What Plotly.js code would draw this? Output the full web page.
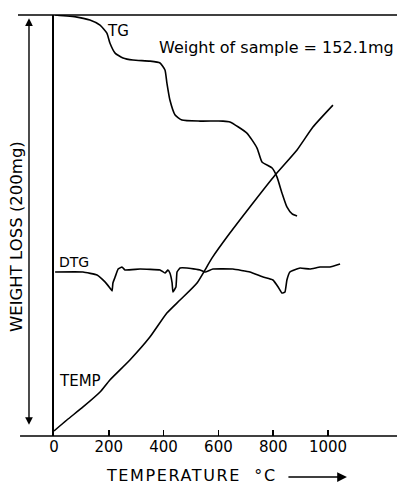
<!DOCTYPE html>
<html>
<head>
<meta charset="utf-8">
<script src="https://cdn.plot.ly/plotly-3.0.1.min.js"></script>
<style>html,body{margin:0;padding:0;background:#fff;}#chart{width:397px;height:485px;}</style>
</head>
<body>
<div id="chart"></div>
<script>
// Temperature axis (°C) and curve values (vertical scale 0-200 mg full scale)
const tgTemp = [4, 84, 131, 168, 193, 204, 223, 252, 288, 350, 387, 405, 412, 423, 442, 467, 533, 617, 642, 704, 741, 759, 796, 814, 832, 850, 869, 887];
const tgValue = [200, 199, 197.6, 195.2, 191.4, 186.7, 181.9, 179.6, 178.6, 178.1, 177.2, 173.9, 167.7, 159.6, 152.5, 150.1, 149.6, 149.6, 149.2, 143.9, 136.8, 130.2, 127.3, 123.0, 115.4, 108.8, 105.5, 104.5];

const dtgTemp = [4, 106, 157, 186, 204, 212, 215, 223, 234, 248, 259, 314, 387, 405, 416, 423, 431, 434, 445, 449, 460, 485, 533, 551, 580, 653, 715, 763, 799, 818, 832, 843, 850, 861, 898, 934, 971, 1007, 1044];
const dtgValue = [77.9, 77.9, 76.5, 73.2, 70.3, 68.9, 72.7, 75.5, 79.3, 80.3, 78.9, 79.3, 78.9, 77.4, 78.9, 77.4, 72.7, 68.4, 70.8, 77.9, 79.8, 79.8, 78.9, 77.9, 79.3, 79.3, 77.9, 75.5, 74.1, 70.8, 67.9, 68.4, 74.1, 77.9, 79.8, 79.3, 80.3, 80.3, 81.7];

const tempTemp = [0, 47, 106, 168, 204, 277, 350, 412, 460, 522, 577, 642, 715, 807, 887, 945, 1018];
const tempValue = [2.4, 7.6, 13.8, 20.9, 26.6, 36.1, 47.0, 58.4, 64.6, 72.7, 84.6, 96.4, 108.8, 124.0, 135.9, 146.8, 157.2];

const xTicks = [0, 200, 400, 600, 800, 1000];
const xTickText = ['0', '200', '400', '600', '800', '1000'];

const traces = [
  {x: tgTemp, y: tgValue, mode: 'lines', line: {color: '#000', width: 1.6, shape: 'spline', smoothing: 0.5}, name: 'TG', hoverinfo: 'skip'},
  {x: dtgTemp, y: dtgValue, mode: 'lines', line: {color: '#000', width: 1.6, shape: 'spline', smoothing: 0.3}, name: 'DTG', hoverinfo: 'skip'},
  {x: tempTemp, y: tempValue, mode: 'lines', line: {color: '#000', width: 1.6, shape: 'spline', smoothing: 0.5}, name: 'TEMP', hoverinfo: 'skip'}
];

const F = 'DejaVu Sans, sans-serif';
const layout = {
  width: 397, height: 485,
  margin: {l: 54, r: 0, t: 15, b: 49, pad: 0},
  paper_bgcolor: '#fff', plot_bgcolor: '#fff',
  showlegend: false,
  font: {family: F, color: '#000'},
  xaxis: {
    range: [0, 1251.8], showgrid: false, zeroline: false, showline: false,
    tickvals: xTicks, ticktext: xTickText, ticks: 'inside', ticklen: 6, tickwidth: 1.5, tickcolor: '#000',
    tickfont: {family: F, size: 15, color: '#000'}
  },
  yaxis: {
    range: [0, 200], showgrid: false, zeroline: false, showline: true, linecolor: '#000', linewidth: 1.6,
    showticklabels: false, ticks: ''
  },
  shapes: [
    {type: 'line', xref: 'paper', yref: 'paper', x0: -0.105, x1: 1, y0: 1, y1: 1, line: {color: '#000', width: 1.6}},
    {type: 'line', xref: 'paper', yref: 'paper', x0: -0.099, x1: 1, y0: 0, y1: 0, line: {color: '#000', width: 1.6}}
  ],
  annotations: [
    {xref: 'paper', yref: 'paper', x: -0.0729, y: 0.992, ax: 0, ay: 408, axref: 'pixel', ayref: 'pixel', text: '', showarrow: true, arrowside: 'end+start', arrowhead: 2, arrowsize: 1.1, arrowwidth: 1.4, arrowcolor: '#000'},
    {xref: 'x', yref: 'y', x: 234, y: 192.4, text: 'TG', showarrow: false, font: {family: F, size: 15, color: '#000'}},
    {xref: 'x', yref: 'y', x: 377, y: 184.8, xanchor: 'left', text: 'Weight of sample = 152.1mg', showarrow: false, font: {family: F, size: 16, color: '#000'}},
    {xref: 'x', yref: 'y', x: 73, y: 82.7, text: 'DTG', showarrow: false, font: {family: F, size: 14, color: '#000'}},
    {xref: 'x', yref: 'y', x: 96, y: 26.1, text: 'TEMP', showarrow: false, font: {family: F, size: 15, color: '#000'}},
    {xref: 'paper', yref: 'paper', x: -0.1108, y: 0.475, xanchor: 'center', yanchor: 'middle', text: 'WEIGHT LOSS (200mg)', textangle: -90, showarrow: false, font: {family: F, size: 16.5, color: '#000'}},
    {xref: 'paper', yref: 'paper', x: 0.18, y: -0.093, xanchor: 'left', yanchor: 'middle', text: 'TEMPERATURE  °C', showarrow: false, font: {family: F, size: 16, color: '#000'}},
    {xref: 'paper', yref: 'paper', x: 0.854, y: -0.0974, ax: -60, ay: 0, text: '', showarrow: true, arrowhead: 2, arrowsize: 1.3, arrowwidth: 1.5, arrowcolor: '#000'}
  ]
};

Plotly.newPlot('chart', traces, layout, {staticPlot: true, displayModeBar: false}).then(function (gd) {
  gd.querySelectorAll('.annotation-text').forEach(function (t) {
    if (t.textContent.indexOf('TEMPERATURE') === 0) {
      t.style.letterSpacing = '1.6px';
    }
  });
});
</script>
</body>
</html>
